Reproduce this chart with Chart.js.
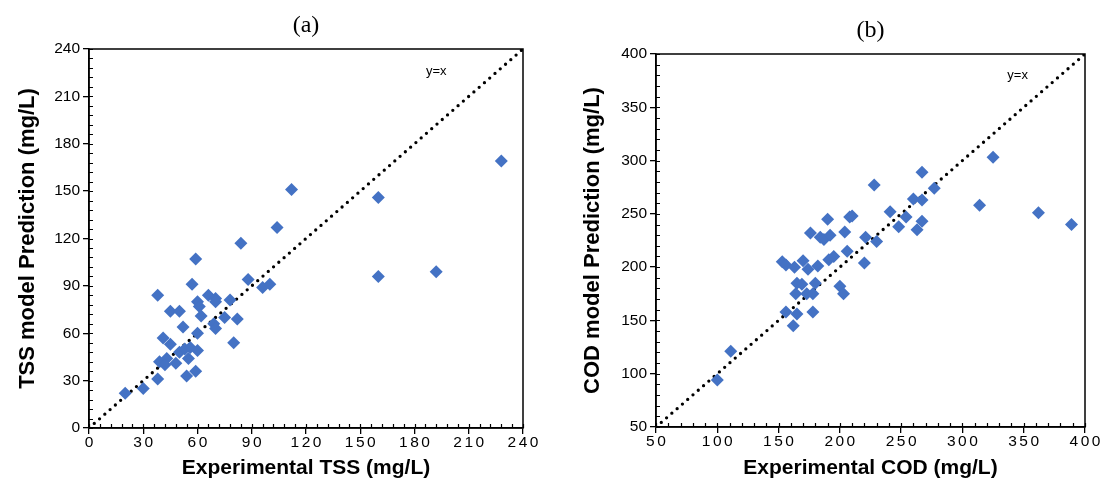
<!DOCTYPE html>
<html>
<head>
<meta charset="utf-8">
<script src="https://cdn.jsdelivr.net/npm/chart.js@4.4.1/dist/chart.umd.min.js"></script>
<style>
  body { margin: 0; background: #fff; }
  .panel { position: absolute; top: 0; }
</style>
</head>
<body>
<div class="panel" style="left:0"><canvas id="tssChart" width="545" height="495"></canvas></div>
<div class="panel" style="left:550px"><canvas id="codChart" width="557" height="495"></canvas></div>
<script>
// (a) TSS: experimental vs model prediction (mg/L)
const tssExperimental = [20, 30, 38, 38, 39, 41, 43, 42, 45, 45, 48, 50, 50, 52, 53, 54, 55, 56, 57, 59,
    59, 60, 60, 60, 61, 62, 66, 69, 70, 70, 70, 75, 78, 80, 82, 84, 88, 96, 100, 104,
    112, 160, 160, 192, 228];
const tssPredicted = [22, 25, 31, 84, 42, 57, 44, 40, 53, 74, 41, 74, 48, 64, 50, 33, 44, 51, 91, 36,
    107, 60, 49, 80, 77, 71, 84, 66, 63, 82, 80, 70, 81, 54, 69, 117, 94, 89, 91, 127,
    151, 146, 96, 99, 169];
const tssTicks = [0, 30, 60, 90, 120, 150, 180, 210, 240];

// (b) COD: experimental vs model prediction (mg/L)
const codExperimental = [100, 111, 153, 156, 156, 162, 163, 164, 165, 165, 169, 170, 173, 174, 176, 178,
    178, 180, 182, 184, 187, 190, 191, 192, 195, 200, 203, 204, 206, 208, 210, 220, 221,
    228, 230, 241, 248, 254, 260, 263, 267, 267, 267, 277, 314, 325, 362, 389];
const codPredicted = [94, 121, 205, 202, 158, 145, 200, 175, 156, 185, 184, 206, 175, 198, 232, 175,
    158, 185, 201, 228, 226, 245, 207, 230, 210, 182, 175, 233, 215, 247, 248, 204, 228,
    277, 224, 252, 238, 247, 264, 235, 263, 243, 289, 274, 258, 303, 251, 240];
const codTicks = [50, 100, 150, 200, 250, 300, 350, 400];

const blue = '#4472C4';
const sans = "'Liberation Sans', Arial, sans-serif";

// frame, inner minor ticks, spaced x labels, panel letter and y=x note
const decor = {
    id: 'decor',
    afterDraw(chart, args, opts) {
        const { ctx, chartArea: a, scales: { x, y } } = chart;
        ctx.save();
        ctx.strokeStyle = '#000';
        ctx.lineWidth = 1.5;
        ctx.strokeRect(a.left, a.top, a.right - a.left, a.bottom - a.top);
        ctx.lineWidth = 1.2;
        ctx.beginPath();
        for (let v = x.min; v <= x.max + 1e-6; v += opts.minor) {
            const px = Math.round(x.getPixelForValue(v)) + 0.5;
            ctx.moveTo(px, a.bottom);
            ctx.lineTo(px, a.bottom - 4);
        }
        for (let v = y.min; v <= y.max + 1e-6; v += opts.minor) {
            const py = Math.round(y.getPixelForValue(v)) + 0.5;
            ctx.moveTo(a.left, py);
            ctx.lineTo(a.left + 4, py);
        }
        ctx.stroke();
        ctx.fillStyle = '#000';
        ctx.textAlign = 'center';
        ctx.textBaseline = 'middle';
        ctx.font = '15.5px ' + sans;
        ctx.letterSpacing = '2.5px';
        x.ticks.forEach(t => {
            ctx.fillText(String(t.value), x.getPixelForValue(t.value) + 1.2, a.bottom + 15);
        });
        ctx.letterSpacing = '0px';
        ctx.font = "24px 'Liberation Serif', serif";
        ctx.fillText(opts.letter, (a.left + a.right) / 2, a.top - 23);
        ctx.font = '13px ' + sans;
        ctx.fillText('y=x', x.getPixelForValue(opts.note[0]), y.getPixelForValue(opts.note[1]));
        ctx.restore();
    }
};

function makeScatter(id, xs, ys, ticks, o) {
    const lo = ticks[0], hi = ticks[ticks.length - 1];
    const axisTicks = s => { s.ticks = ticks.map(v => ({ value: v })); };
    return new Chart(document.getElementById(id), {
        type: 'scatter',
        data: {
            datasets: [{
                data: xs.map((v, i) => ({ x: v, y: ys[i] })),
                pointStyle: 'rectRot',
                pointRadius: 6.5,
                backgroundColor: blue,
                borderColor: blue,
                borderWidth: 0,
                order: 1,
            }, {
                type: 'line',
                data: [{ x: lo, y: lo }, { x: hi, y: hi }],
                borderColor: '#000',
                borderWidth: 3.3,
                borderDash: [0, 7],
                borderCapStyle: 'round',
                pointRadius: 0,
                order: 2,
            }],
        },
        options: {
            responsive: false,
            animation: false,
            layout: { padding: { top: o.top, right: o.right, left: 0, bottom: 0 } },
            plugins: {
                legend: { display: false },
                tooltip: { enabled: false },
                decor: { letter: o.letter, minor: o.minor, note: o.note },
            },
            scales: {
                x: {
                    type: 'linear', min: lo, max: hi,
                    afterBuildTicks: axisTicks,
                    afterFit: s => { s.height = o.xHeight; },
                    grid: { drawOnChartArea: false, tickLength: 6, color: '#000', lineWidth: 1.3 },
                    border: { color: '#000', width: 1.5 },
                    ticks: { display: false },
                    title: { display: true, text: o.xTitle, color: '#000',
                        font: { family: sans, size: 21, weight: 'bold' }, padding: { bottom: 14 } },
                },
                y: {
                    type: 'linear', min: lo, max: hi,
                    afterBuildTicks: axisTicks,
                    afterFit: s => { s.width = o.yWidth; },
                    grid: { drawOnChartArea: false, tickLength: 6, color: '#000', lineWidth: 1.3 },
                    border: { color: '#000', width: 1.5 },
                    ticks: { color: '#000', font: { family: sans, size: 15.5 }, padding: 3 },
                    title: { display: true, text: o.yTitle, color: '#000',
                        font: { family: sans, size: 22, weight: 'bold' }, padding: { top: o.yTitlePad } },
                },
            },
        },
        plugins: [decor],
    });
}

makeScatter('tssChart', tssExperimental, tssPredicted, tssTicks, {
    letter: '(a)', minor: 6, note: [192, 226],
    top: 49, right: 22, xHeight: 67, yWidth: 89, yTitlePad: 15,
    xTitle: 'Experimental TSS (mg/L)', yTitle: 'TSS model Prediction (mg/L)',
});
makeScatter('codChart', codExperimental, codPredicted, codTicks, {
    letter: '(b)', minor: 10, note: [345, 380],
    top: 54, right: 22, xHeight: 68, yWidth: 106, yTitlePad: 30,
    xTitle: 'Experimental COD (mg/L)', yTitle: 'COD model Prediction (mg/L)',
});
</script>
</body>
</html>
